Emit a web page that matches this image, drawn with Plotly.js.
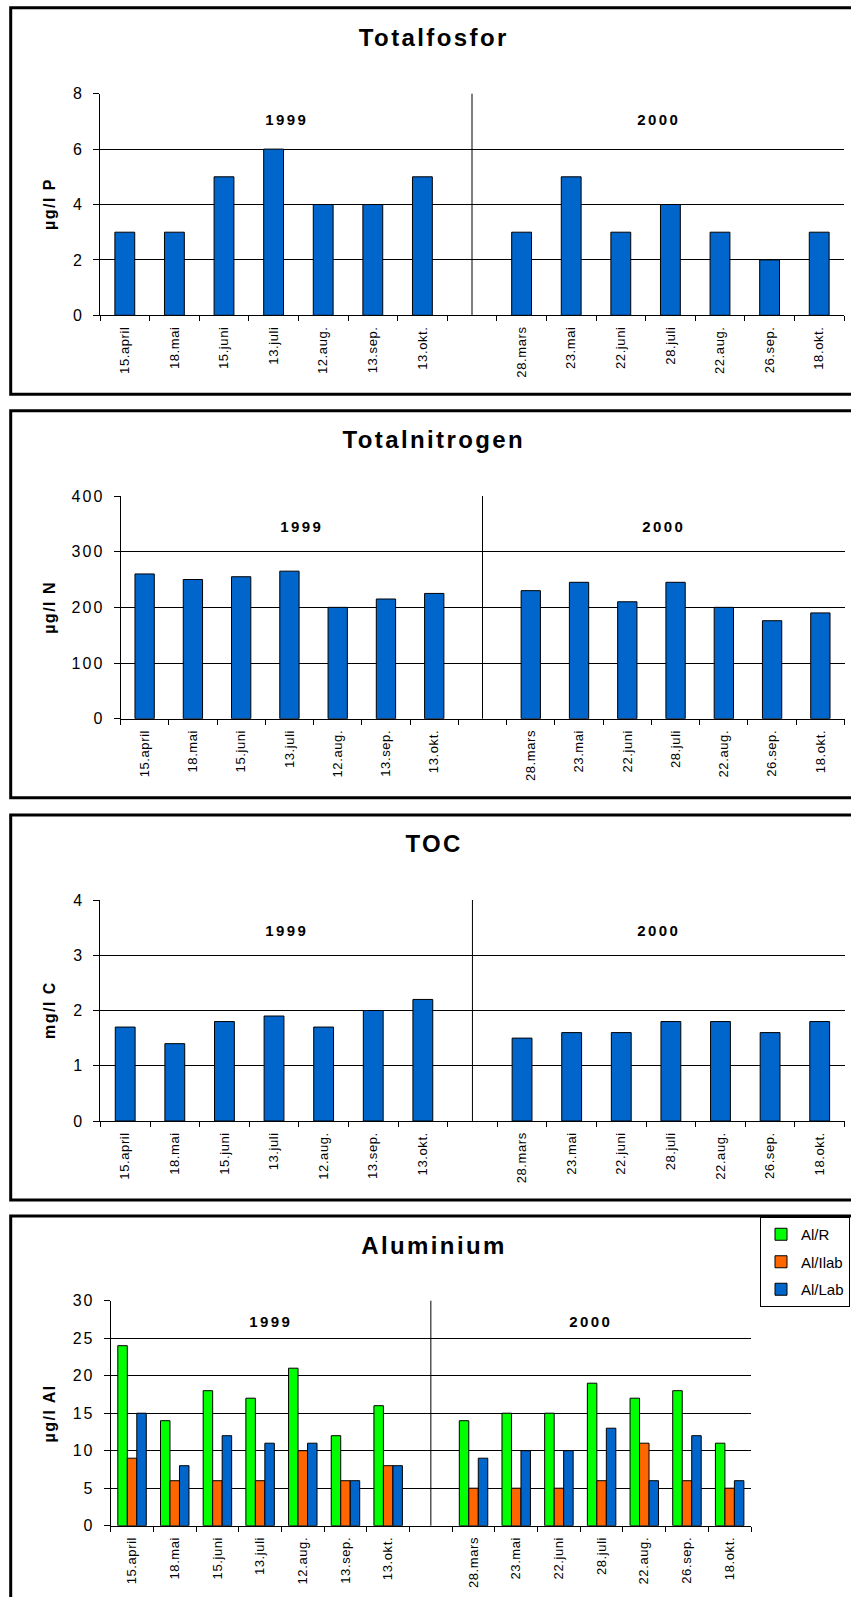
<!DOCTYPE html>
<html>
<head>
<meta charset="utf-8">
<script src="https://cdn.plot.ly/plotly-3.0.1.min.js"></script>
<style>
  html, body { margin: 0; padding: 0; background: #fff; }
  #chart { width: 851px; height: 1597px; }
  #chart .annotation-text { letter-spacing: 2.4px; }
  #chart g.xtick text, #chart g.x2tick text, #chart g.x3tick text, #chart g.x4tick text { letter-spacing: 0.6px; }
  #chart g.ytick text, #chart g.y2tick text, #chart g.y3tick text, #chart g.y4tick text { letter-spacing: 2px; }
</style>
</head>
<body>
<div id="chart"></div>
<script>
// ---------- data ----------
const cats1999 = ['15.april', '18.mai', '15.juni', '13.juli', '12.aug.', '13.sep.', '13.okt.'];
const cats2000 = ['28.mars', '23.mai', '22.juni', '28.juli', '22.aug.', '26.sep.', '18.okt.'];
const spacer = ' ';
const years = ['1999', '2000'];

const totalfosfor1999 = [3, 3, 5, 6, 4, 4, 5];
const totalfosfor2000 = [3, 5, 3, 4, 3, 2, 3];

const totalnitrogen1999 = [260, 250, 255, 265, 200, 215, 225];
const totalnitrogen2000 = [230, 245, 210, 245, 200, 176, 190];

const toc1999 = [1.7, 1.4, 1.8, 1.9, 1.7, 2.0, 2.2];
const toc2000 = [1.5, 1.6, 1.6, 1.8, 1.8, 1.6, 1.8];

const alR1999 = [24, 14, 18, 17, 21, 12, 16];
const alR2000 = [14, 15, 15, 19, 17, 18, 11];
const alIlab1999 = [9, 6, 6, 6, 10, 6, 8];
const alIlab2000 = [5, 5, 5, 6, 11, 6, 5];
const alLab1999 = [15, 8, 12, 11, 11, 6, 8];
const alLab2000 = [9, 10, 10, 13, 6, 12, 6];

const seriesNames = ['Al/R', 'Al/Ilab', 'Al/Lab'];
const chartTitles = ['Totalfosfor', 'Totalnitrogen', 'TOC', 'Aluminium'];
const yTitles = ['µg/l P', 'µg/l N', 'mg/l C', 'µg/l Al'];

// ---------- helpers ----------
const W = 851, H = 1597;
const px = v => v / W;
const py = v => 1 - v / H;
const cats = cats1999.concat([spacer], cats2000);
const join = (a, b) => a.concat([null], b);

const FONT = 'Liberation Sans, Arial, Helvetica, sans-serif';
const BLUE = '#0066CC', GREEN = '#00FF00', ORANGE = '#FF6600';

const panels = [
  { range: [0, 8],   dtick: 2,   xd: [100, 844],     yd: [93.7, 315.3],    titleY: 37,   yearOff: 25.5, frame: [7.7, 394.3],
    series: [{ name: 'Totalfosfor', y: join(totalfosfor1999, totalfosfor2000), color: BLUE }] },
  { range: [0, 400], dtick: 100, xd: [120.5, 844.5], yd: [496, 718.7],     titleY: 440,  yearOff: 30.5, frame: [410.7, 797.7],
    series: [{ name: 'Totalnitrogen', y: join(totalnitrogen1999, totalnitrogen2000), color: BLUE }] },
  { range: [0, 4],   dtick: 1,   xd: [100.4, 844.5], yd: [900, 1121],      titleY: 843,  yearOff: 30, frame: [815, 1200],
    series: [{ name: 'TOC', y: join(toc1999, toc2000), color: BLUE }] },
  { range: [0, 30],  dtick: 5,   xd: [110.7, 751],   yd: [1300.7, 1525.7], titleY: 1245, yearOff: 20.5, frame: [1216, 1660],
    series: [
      { name: seriesNames[0], y: join(alR1999, alR2000), color: GREEN },
      { name: seriesNames[1], y: join(alIlab1999, alIlab2000), color: ORANGE },
      { name: seriesNames[2], y: join(alLab1999, alLab2000), color: BLUE }
    ] }
];

const data = [];
const layout = {
  width: W, height: H,
  margin: { l: 0, r: 0, t: 0, b: 0 },
  paper_bgcolor: '#fff', plot_bgcolor: '#fff',
  font: { family: FONT, color: '#000' },
  barmode: 'group', bargap: 0.333, bargroupgap: 0,
  showlegend: true,
  legend: {
    x: px(850), xanchor: 'right', y: py(1217), yanchor: 'top',
    bordercolor: '#000', borderwidth: 1, bgcolor: '#fff',
    font: { family: FONT, size: 15, color: '#000' },
    tracegroupgap: 5
  },
  shapes: [], annotations: []
};

panels.forEach((p, i) => {
  const sfx = i === 0 ? '' : String(i + 1);
  const xa = 'x' + sfx, ya = 'y' + sfx;
  const multi = p.series.length > 1;
  p.series.forEach((s, k) => {
    data.push({
      type: 'bar', x: cats, y: s.y, name: s.name,
      xaxis: xa, yaxis: ya,
      width: multi ? undefined : 0.4,
      marker: { color: s.color, line: { color: '#000', width: 1 } },
      showlegend: multi, legendgroup: multi ? 'g' + k : undefined,
      hoverinfo: 'skip'
    });
  });
  layout['xaxis' + sfx] = {
    domain: [px(p.xd[0]), px(p.xd[1])], anchor: ya,
    type: 'category', categoryorder: 'array', categoryarray: cats,
    range: [-0.5, cats.length - 0.5],
    tickson: 'boundaries', ticks: 'outside', ticklen: 5, tickcolor: '#000', tickwidth: 1,
    showline: true, linecolor: '#000', linewidth: 1,
    showgrid: false, zeroline: false, tickangle: -90,
    ticklabelstandoff: 5,
    tickfont: { family: FONT, size: 13, color: '#000' }, fixedrange: true
  };
  layout['yaxis' + sfx] = {
    domain: [py(p.yd[1]), py(p.yd[0])], anchor: xa,
    range: p.range, tick0: 0, dtick: p.dtick,
    ticks: 'outside', ticklen: 6, tickcolor: '#000', tickwidth: 1,
    showline: true, linecolor: '#000', linewidth: 1,
    showgrid: true, gridcolor: '#000', gridwidth: 1, zeroline: false,
    ticklabelstandoff: 6,
    tickfont: { family: FONT, size: 16, color: '#000' }, fixedrange: true
  };
  // frame
  layout.shapes.push({
    type: 'rect', xref: 'paper', yref: 'paper',
    x0: px(10.7), x1: px(W + 20), y0: py(p.frame[1]), y1: py(p.frame[0]),
    line: { color: '#000', width: 3 }, fillcolor: 'rgba(0,0,0,0)', layer: 'above'
  });
  // year divider
  layout.shapes.push({
    type: 'line', xref: xa, yref: ya + ' domain',
    x0: cats1999.length, x1: cats1999.length, y0: 0, y1: 1,
    line: { color: '#000', width: 1 }
  });
  // chart title
  layout.annotations.push({
    text: '<b>' + chartTitles[i] + '</b>', xref: 'paper', yref: 'paper',
    x: px(434), y: py(p.titleY), xanchor: 'center', yanchor: 'middle',
    showarrow: false, font: { family: FONT, size: 24, color: '#000' }
  });
  // y title
  layout.annotations.push({
    text: '<b>' + yTitles[i] + '</b>', xref: 'paper', yref: 'paper',
    x: px(49), y: py((p.yd[0] + p.yd[1]) / 2), xanchor: 'center', yanchor: 'middle',
    textangle: -90, showarrow: false, font: { family: FONT, size: 16, color: '#000' }
  });
  // year labels
  const h = p.yd[1] - p.yd[0];
  const centers = [(cats1999.length - 0.5) / 2, (cats1999.length + cats.length - 0.5) / 2];
  years.forEach((yr, j) => {
    layout.annotations.push({
      text: '<b>' + yr + '</b>', xref: xa, yref: ya + ' domain',
      x: centers[j], y: 1 - p.yearOff / h, xanchor: 'center', yanchor: 'middle',
      showarrow: false, font: { family: FONT, size: 15, color: '#000' }
    });
  });
});

Plotly.newPlot('chart', data, layout, { staticPlot: true, displayModeBar: false }).then(gd => {
  // y-axis titles: a little tighter spacing than the chart titles
  gd.querySelectorAll('g.annotation').forEach(g => {
    const idx = +g.getAttribute('data-index');
    if (idx % 4 === 1) {
      const t = g.querySelector('text');
      if (t) t.style.letterSpacing = '1.5px';
    }
  });
});
</script>
</body>
</html>
